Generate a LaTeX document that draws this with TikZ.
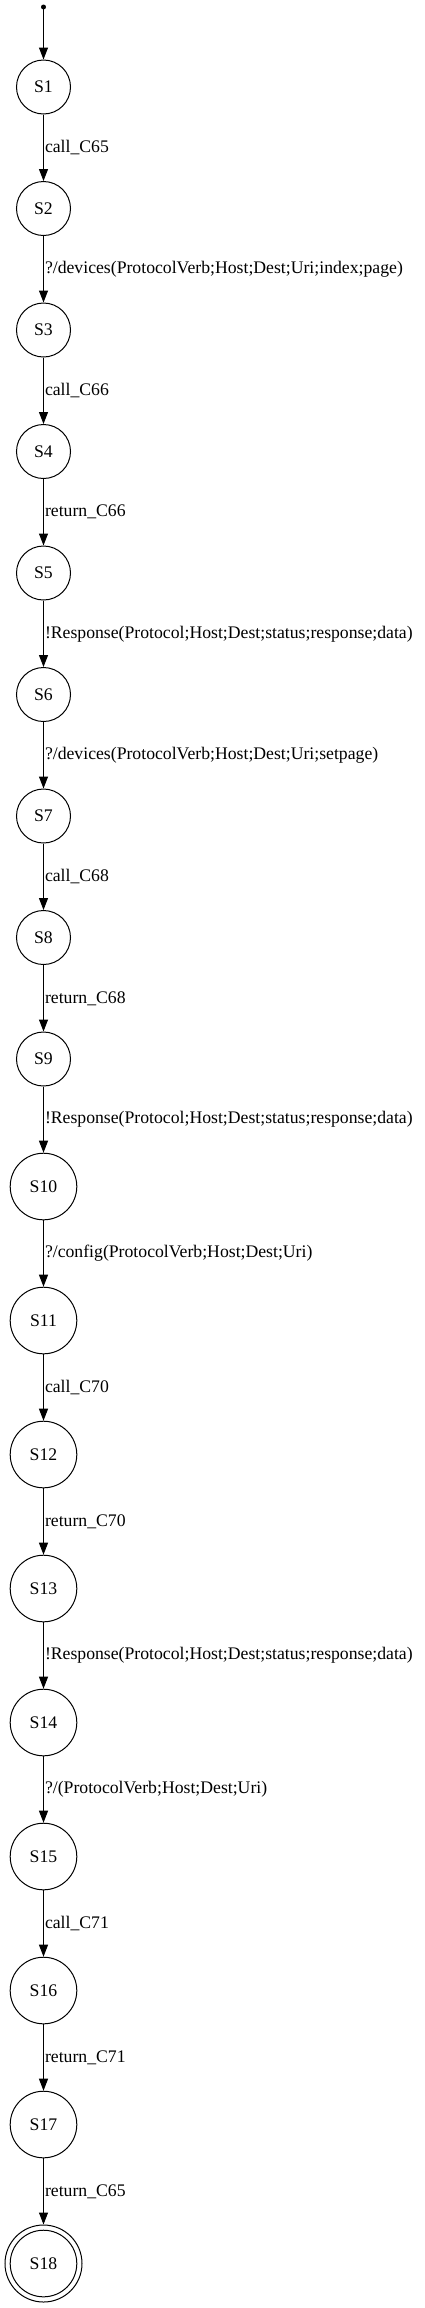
\documentclass[tikz,border=0pt]{standalone}
\usepackage{fontspec}
\setmainfont{Liberation Serif}
\usetikzlibrary{arrows.meta}
\begin{document}
\begin{tikzpicture}[x=1pt,y=-1pt,
  every node/.style={font=\fontsize{17.7pt}{20pt}\selectfont},
  st/.style={circle,draw,line width=1pt,minimum size=54pt,inner sep=0pt},
  stw/.style={circle,draw,line width=1pt,minimum size=66.6pt,inner sep=0pt},
  tr/.style={line width=1pt,-{Triangle[length=12pt,width=9pt]}},
  lbl/.style={anchor=west,inner sep=0pt,xshift=1pt}]
\useasboundingbox (0,0) rectangle (424,2308);
\fill (43.5,7) circle (2.5pt);
\coordinate (init) at (43.5,7);
\node[st] (S1) at (43.5,87) {S1};
\node[st] (S2) at (43.5,208.5) {S2};
\node[st] (S3) at (43.5,330) {S3};
\node[st] (S4) at (43.5,451.5) {S4};
\node[st] (S5) at (43.5,573) {S5};
\node[st] (S6) at (43.5,694.5) {S6};
\node[st] (S7) at (43.5,816) {S7};
\node[st] (S8) at (43.5,937.5) {S8};
\node[st] (S9) at (43.5,1059) {S9};
\node[stw] (S10) at (43.5,1186.5) {S10};
\node[stw] (S11) at (43.5,1320.5) {S11};
\node[stw] (S12) at (43.5,1454.5) {S12};
\node[stw] (S13) at (43.5,1588.5) {S13};
\node[stw] (S14) at (43.5,1722.5) {S14};
\node[stw] (S15) at (43.5,1856.5) {S15};
\node[stw] (S16) at (43.5,1990.5) {S16};
\node[stw] (S17) at (43.5,2124.5) {S17};
\node[stw] (S18) at (43.5,2263.5) {S18};
\node[circle,draw,line width=1pt,minimum size=77pt,inner sep=0pt] (S18o) at (43.5,2263.5) {};
\draw[tr] (init) -- (S1);
\draw[tr] (S1) -- node[lbl] {call\_C65} (S2);
\draw[tr] (S2) -- node[lbl] {?/devices(ProtocolVerb;Host;Dest;Uri;index;page)} (S3);
\draw[tr] (S3) -- node[lbl] {call\_C66} (S4);
\draw[tr] (S4) -- node[lbl] {return\_C66} (S5);
\draw[tr] (S5) -- node[lbl] {!Response(Protocol;Host;Dest;status;response;data)} (S6);
\draw[tr] (S6) -- node[lbl] {?/devices(ProtocolVerb;Host;Dest;Uri;setpage)} (S7);
\draw[tr] (S7) -- node[lbl] {call\_C68} (S8);
\draw[tr] (S8) -- node[lbl] {return\_C68} (S9);
\draw[tr] (S9) -- node[lbl] {!Response(Protocol;Host;Dest;status;response;data)} (S10);
\draw[tr] (S10) -- node[lbl] {?/config(ProtocolVerb;Host;Dest;Uri)} (S11);
\draw[tr] (S11) -- node[lbl] {call\_C70} (S12);
\draw[tr] (S12) -- node[lbl] {return\_C70} (S13);
\draw[tr] (S13) -- node[lbl] {!Response(Protocol;Host;Dest;status;response;data)} (S14);
\draw[tr] (S14) -- node[lbl] {?/(ProtocolVerb;Host;Dest;Uri)} (S15);
\draw[tr] (S15) -- node[lbl] {call\_C71} (S16);
\draw[tr] (S16) -- node[lbl] {return\_C71} (S17);
\draw[tr] (S17) -- node[lbl] {return\_C65} (S18o);
\end{tikzpicture}
\end{document}
